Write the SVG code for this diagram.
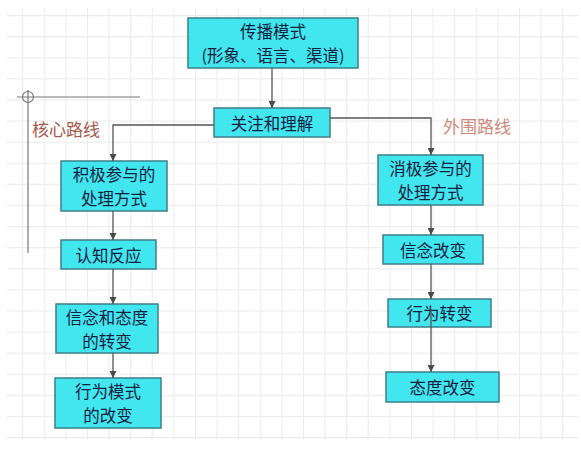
<svg xmlns="http://www.w3.org/2000/svg" width="581" height="456" viewBox="0 0 581 456">
  <defs>
    <pattern id="grid" x="0.6" y="15" width="21.6" height="21.1" patternUnits="userSpaceOnUse">
      <path d="M0.5 0 V21.1 M0 0.5 H21.6" fill="none" stroke="#ececec" stroke-width="1.2"/>
    </pattern>
    <marker id="arr" viewBox="0 0 8 8" refX="8" refY="4" markerWidth="7" markerHeight="7" markerUnits="userSpaceOnUse" orient="auto">
      <path d="M0 0 L8 4 L0 8 Z" fill="#4a4a4a"/>
    </marker>
  </defs>
  <style>
    .box { fill: #42e6ee; stroke: #3f7f88; stroke-width: 1.5; }
    .t { font-family: "Noto Sans CJK SC", "Noto Sans", sans-serif; font-size: 16.5px; fill: #16213f; text-anchor: middle; dominant-baseline: central; }
    .lbl { font-family: "Noto Sans CJK SC", "Noto Sans", sans-serif; font-size: 17px; dominant-baseline: central; }
    .c { fill: none; stroke: #555; stroke-width: 1.3; }
    .deco { fill: none; stroke: #777; stroke-width: 1.2; }
  </style>
  <rect x="0" y="0" width="581" height="456" fill="#ffffff"/>
  <rect x="7" y="8" width="571" height="432" fill="url(#grid)"/>

  <g id="decoration">
    <line class="deco" x1="17" y1="97" x2="140" y2="97"/>
    <line class="deco" x1="28" y1="90" x2="28" y2="253"/>
    <circle class="deco" cx="28" cy="97" r="5.5"/>
  </g>

  <g id="label-core"><text class="lbl" x="32" y="128" fill="#a65a4e">核心路线</text></g>
  <g id="label-outer"><text class="lbl" x="443" y="125" fill="#cf8a7c">外围路线</text></g>

  <g id="node-mode">
    <rect class="box" x="188" y="18" width="170" height="50"/>
    <text class="t" x="273" y="31">传播模式<tspan x="273" dy="24">(形象、语言、渠道)</tspan></text>
  </g>
  <g id="node-attention">
    <rect class="box" x="214" y="108" width="116" height="29"/>
    <text class="t" x="272" y="122.5">关注和理解</text>
  </g>
  <g id="node-active">
    <rect class="box" x="61" y="161" width="106" height="50"/>
    <text class="t" x="114" y="174">积极参与的<tspan x="114" dy="24">处理方式</tspan></text>
  </g>
  <g id="node-cognition">
    <rect class="box" x="61" y="240" width="95" height="29"/>
    <text class="t" x="108.5" y="254.5">认知反应</text>
  </g>
  <g id="node-belief-attitude">
    <rect class="box" x="56" y="304" width="102" height="49"/>
    <text class="t" x="107" y="316.5">信念和态度<tspan x="107" dy="24">的转变</tspan></text>
  </g>
  <g id="node-behavior-mode">
    <rect class="box" x="55" y="378" width="106" height="50"/>
    <text class="t" x="108" y="391">行为模式<tspan x="108" dy="24">的改变</tspan></text>
  </g>
  <g id="node-passive">
    <rect class="box" x="378" y="155" width="105" height="50"/>
    <text class="t" x="430.5" y="168">消极参与的<tspan x="430.5" dy="24">处理方式</tspan></text>
  </g>
  <g id="node-belief">
    <rect class="box" x="383" y="235" width="100" height="29"/>
    <text class="t" x="433" y="249.5">信念改变</text>
  </g>
  <g id="node-behavior">
    <rect class="box" x="388" y="299" width="103" height="28"/>
    <text class="t" x="439.5" y="313">行为转变</text>
  </g>
  <g id="node-attitude">
    <rect class="box" x="386" y="372" width="113" height="30"/>
    <text class="t" x="442.5" y="387">态度改变</text>
  </g>

  <g id="connectors">
    <line class="c" x1="272" y1="68" x2="272" y2="108" marker-end="url(#arr)"/>
    <polyline class="c" points="214,125 113,125 113,161" marker-end="url(#arr)"/>
    <polyline class="c" points="330,118 431,118 431,155" marker-end="url(#arr)"/>
    <line class="c" x1="113" y1="211" x2="113" y2="240" marker-end="url(#arr)"/>
    <line class="c" x1="113" y1="269" x2="113" y2="304" marker-end="url(#arr)"/>
    <line class="c" x1="113" y1="353" x2="113" y2="378" marker-end="url(#arr)"/>
    <line class="c" x1="431" y1="205" x2="431" y2="235" marker-end="url(#arr)"/>
    <line class="c" x1="431" y1="264" x2="431" y2="299" marker-end="url(#arr)"/>
    <line class="c" x1="431" y1="309" x2="431" y2="372" marker-end="url(#arr)"/>
  </g>
</svg>
